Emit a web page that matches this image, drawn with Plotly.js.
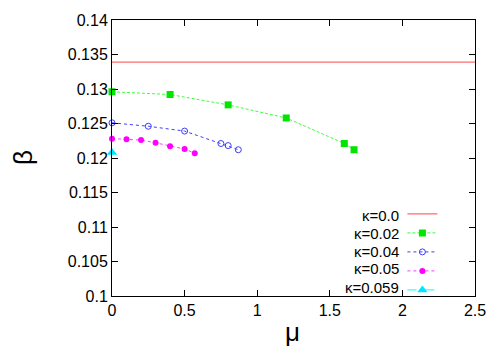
<!DOCTYPE html>
<html>
<head>
<meta charset="utf-8">
<script src="https://cdn.plot.ly/plotly-3.0.1.min.js"></script>
<style>body{margin:0;background:#fff}</style>
</head>
<body>
<div id="Grafico" style="width:500px;height:350px"></div>
<script>
// kappa = 0.0 : constant beta
let muK0 = [0, 2.5];
let betaK0 = [0.1339, 0.1339];

let muK02 = [0, 0.4, 0.8, 1.2, 1.6, 1.667];
let betaK02 = [0.1296, 0.1292, 0.1277, 0.1258, 0.1221, 0.1212];

let muK04 = [0, 0.25, 0.5, 0.75, 0.8, 0.87];
let betaK04 = [0.1251, 0.1246, 0.1239, 0.1221, 0.1218, 0.1212];

let muK05 = [0, 0.1, 0.2, 0.3, 0.4, 0.5, 0.57];
let betaK05 = [0.1228, 0.1227, 0.1226, 0.1222, 0.1217, 0.1213, 0.1207];

let muK059 = [0];
let betaK059 = [0.1208];

let etiquetas = ['κ=0.0', 'κ=0.02', 'κ=0.04', 'κ=0.05', 'κ=0.059'];

let k0 = {
	x: muK0, y: betaK0, type: 'scatter', mode: 'lines', name: '', cliponaxis: false,
	line: {color: 'rgb(255,70,70)', width: 1}
}
let k02 = {
	x: muK02, y: betaK02, type: 'scatter', mode: 'lines+markers', name: '', cliponaxis: false,
	line: {color: 'rgb(60,255,60)', width: 1, dash: '3px,2px'},
	marker: {symbol: 'square', size: 7, color: 'rgb(0,230,0)'}
}
let k04 = {
	x: muK04, y: betaK04, type: 'scatter', mode: 'lines+markers', name: '', cliponaxis: false,
	line: {color: 'rgb(60,60,255)', width: 1, dash: 'dot'},
	marker: {symbol: 'circle-open', size: 6, color: 'rgb(60,60,255)', line: {width: 1}}
}
let k05 = {
	x: muK05, y: betaK05, type: 'scatter', mode: 'lines+markers', name: '', cliponaxis: false,
	line: {color: 'rgb(255,60,255)', width: 1, dash: 'dot'},
	marker: {symbol: 'circle', size: 6, color: 'rgb(255,0,255)'}
}
let k059 = {
	x: muK059, y: betaK059, type: 'scatter', mode: 'lines+markers', name: '', cliponaxis: false,
	line: {color: 'rgb(0,255,255)', width: 1, dash: 'dashdot'},
	marker: {symbol: 'triangle-up', size: 9, color: 'rgb(0,230,255)'}
}

let filas = [0.293, 0.228, 0.163, 0.098, 0.031];
let notas = etiquetas.map((t, i) => ({
	text: t, xref: 'paper', yref: 'paper', x: 0.795, y: filas[i],
	xanchor: 'right', yanchor: 'middle', showarrow: false,
	font: {size: 15, color: '#000'}
}));
// axis titles
notas.push({text: 'β', xref: 'paper', yref: 'paper', x: -0.245, y: 0.5,
	textangle: -90, showarrow: false, xanchor: 'center', yanchor: 'middle', font: {size: 26}});
notas.push({text: 'μ', xref: 'paper', yref: 'paper', x: 0.498, y: -0.13,
	showarrow: false, xanchor: 'center', yanchor: 'middle', font: {size: 26}});

let ejes = {
	showline: true, linecolor: '#000', linewidth: 1, mirror: 'ticks',
	ticks: 'inside', ticklen: 6, tickcolor: '#000', showgrid: false, zeroline: false,
	tickfont: {size: 16, color: '#000'}
}

let layout = {
	width: 500, height: 350,
	margin: {l: 112, r: 25, t: 20, b: 54},
	font: {family: 'Liberation Sans, Arial, sans-serif', color: '#000'},
	paper_bgcolor: '#fff', plot_bgcolor: '#fff',
	xaxis: Object.assign({}, ejes, {
		range: [0, 2.5], tickvals: [0, 0.5, 1, 1.5, 2, 2.5],
		ticktext: ['0', '0.5', '1', '1.5', '2', '2.5']
	}),
	yaxis: Object.assign({}, ejes, {
		range: [0.1, 0.14], tickvals: [0.1, 0.105, 0.11, 0.115, 0.12, 0.125, 0.13, 0.135, 0.14],
		ticktext: ['0.1', '0.105', '0.11', '0.115', '0.12', '0.125', '0.13', '0.135', '0.14']
	}),
	showlegend: true,
	legend: {
		x: 0.8, y: 0.35, xanchor: 'left', yanchor: 'top',
		bgcolor: 'rgba(0,0,0,0)', font: {size: 10}, tracegroupgap: 0, itemwidth: 30
	},
	annotations: notas
}

let contenedor = document.getElementById("Grafico");
Plotly.newPlot(contenedor, [k0, k02, k04, k05, k059], layout, {displayModeBar: false});
</script>
</body>
</html>
